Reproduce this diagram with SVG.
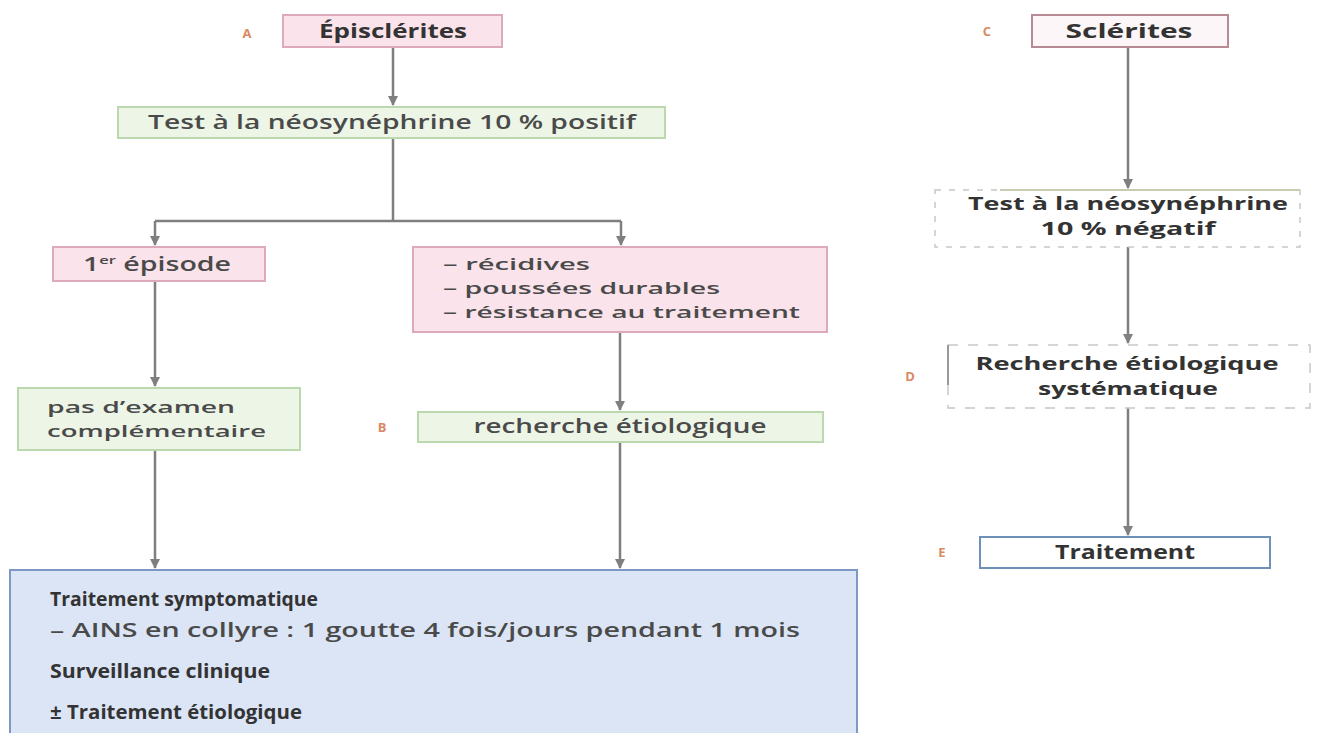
<svg xmlns="http://www.w3.org/2000/svg" width="1319" height="733" viewBox="0 0 1319 733">
<style>
text{font-family:"Open Sans","Noto Sans","Liberation Sans",sans-serif;fill:#4a4a4a;}
.t{font-size:19px;font-weight:600;}
.s{font-size:17px;}
.b{font-weight:bold;fill:#333;}
.lab{font-size:13px;fill:#d98a62;font-weight:bold;}
.pink{fill:#fae3ea;stroke:#dcaab8;stroke-width:2;}
.green{fill:#ecf5e6;stroke:#bcd8ae;stroke-width:2;}
.blue{fill:#dbe5f6;stroke:#7d98c2;stroke-width:2;}
.con{stroke:#7f7f7f;stroke-width:2.5;fill:none;}
</style>
<defs>
<marker id="ah" viewBox="0 0 10 10" refX="9" refY="5" markerWidth="4" markerHeight="4" orient="auto">
<path d="M0,0 L10,5 L0,10 z" fill="#7f7f7f"/>
</marker>
</defs>
<rect width="1319" height="733" fill="#fff"/>
<g id="connectors">
<path class="con" d="M393,47 V105" marker-end="url(#ah)"/>
<path class="con" d="M393,138 V221 M155,221 H621"/>
<path class="con" d="M155,221 V245" marker-end="url(#ah)"/>
<path class="con" d="M621,221 V245" marker-end="url(#ah)"/>
<path class="con" d="M155,281 V386" marker-end="url(#ah)"/>
<path class="con" d="M620,332 V410" marker-end="url(#ah)"/>
<path class="con" d="M155,450 V568" marker-end="url(#ah)"/>
<path class="con" d="M620,442 V568" marker-end="url(#ah)"/>
<path class="con" d="M1128,47 V188" marker-end="url(#ah)"/>
<path class="con" d="M1128,247 V343" marker-end="url(#ah)"/>
<path class="con" d="M1128,408 V535" marker-end="url(#ah)"/>
</g>
<g id="nA">
<text class="lab" x="247" y="38" text-anchor="middle">A</text>
<rect class="pink" x="283" y="15" width="219" height="32"/>
<text class="t b" x="393" y="38" text-anchor="middle" textLength="148" lengthAdjust="spacingAndGlyphs">Épisclérites</text>
</g>
<g id="nTestPos">
<rect class="green" x="118" y="107" width="547" height="31"/>
<text class="t" x="392" y="129" text-anchor="middle" textLength="488" lengthAdjust="spacingAndGlyphs">Test à la néosynéphrine 10 % positif</text>
</g>
<g id="nEp1">
<rect class="pink" x="53" y="247" width="212" height="34"/>
<text class="t" x="83" y="271" textLength="148" lengthAdjust="spacingAndGlyphs">1<tspan font-size="11" dy="-7">er</tspan><tspan dy="7"> épisode</tspan></text>
</g>
<g id="nRecid">
<rect class="pink" x="413" y="247" width="414" height="85"/>
<text class="t s" x="443" y="270" textLength="147" lengthAdjust="spacingAndGlyphs">– récidives</text>
<text class="t s" x="443" y="294" textLength="277" lengthAdjust="spacingAndGlyphs">– poussées durables</text>
<text class="t s" x="443" y="318" textLength="357" lengthAdjust="spacingAndGlyphs">– résistance au traitement</text>
</g>
<g id="nPasExam">
<rect class="green" x="18" y="388" width="282" height="62"/>
<text class="t s" x="47" y="413" textLength="188" lengthAdjust="spacingAndGlyphs">pas d’examen</text>
<text class="t s" x="47" y="437" textLength="219" lengthAdjust="spacingAndGlyphs">complémentaire</text>
</g>
<g id="nB">
<text class="lab" x="382" y="432" text-anchor="middle">B</text>
<rect class="green" x="418" y="412" width="405" height="30"/>
<text class="t" x="620" y="433" text-anchor="middle" textLength="293" lengthAdjust="spacingAndGlyphs">recherche étiologique</text>
</g>
<g id="nTraitSympt">
<rect class="blue" x="10" y="570" width="847" height="175"/>
<text class="t b" x="50" y="606" textLength="268" lengthAdjust="spacingAndGlyphs">Traitement symptomatique</text>
<text class="t" x="50" y="637" textLength="750" lengthAdjust="spacingAndGlyphs">– AINS en collyre : 1 goutte 4 fois/jours pendant 1 mois</text>
<text class="t b" x="50" y="678" textLength="220" lengthAdjust="spacingAndGlyphs">Surveillance clinique</text>
<text class="t b" x="50" y="719" textLength="252" lengthAdjust="spacingAndGlyphs">± Traitement étiologique</text>
</g>
<g id="nC">
<text class="lab" x="987" y="36" text-anchor="middle">C</text>
<rect x="1032" y="15" width="196" height="32" fill="#fdf6f8" stroke="#b88a94" stroke-width="2"/>
<text class="t b" x="1129" y="38" text-anchor="middle" textLength="127" lengthAdjust="spacingAndGlyphs">Sclérites</text>
</g>
<g id="nTestNeg">
<rect x="935" y="190" width="365" height="57" fill="#fff" stroke="#c8c8c8" stroke-width="1.5" stroke-dasharray="6,8"/>
<path d="M1000,190 H1300" stroke="#c7ccb0" stroke-width="2"/>
<text class="t s b" x="1128" y="210" text-anchor="middle" textLength="320" lengthAdjust="spacingAndGlyphs">Test à la néosynéphrine</text>
<text class="t s b" x="1128" y="235" text-anchor="middle" textLength="175" lengthAdjust="spacingAndGlyphs">10 % négatif</text>
</g>
<g id="nD">
<text class="lab" x="910" y="381" text-anchor="middle">D</text>
<rect x="948" y="345" width="362" height="63" fill="#fff" stroke="#c8c8c8" stroke-width="1.5" stroke-dasharray="10,10"/>
<path d="M948,345 V385" stroke="#999" stroke-width="2"/>
<text class="t s b" x="1127" y="370" text-anchor="middle" textLength="303" lengthAdjust="spacingAndGlyphs">Recherche étiologique</text>
<text class="t s b" x="1128" y="395" text-anchor="middle" textLength="180" lengthAdjust="spacingAndGlyphs">systématique</text>
</g>
<g id="nE">
<text class="lab" x="942" y="557" text-anchor="middle">E</text>
<rect x="980" y="537" width="290" height="31" fill="#fff" stroke="#6f90b8" stroke-width="2"/>
<text class="t b" x="1125" y="559" text-anchor="middle" textLength="140" lengthAdjust="spacingAndGlyphs" fill="#2c3e5a">Traitement</text>
</g>
</svg>
